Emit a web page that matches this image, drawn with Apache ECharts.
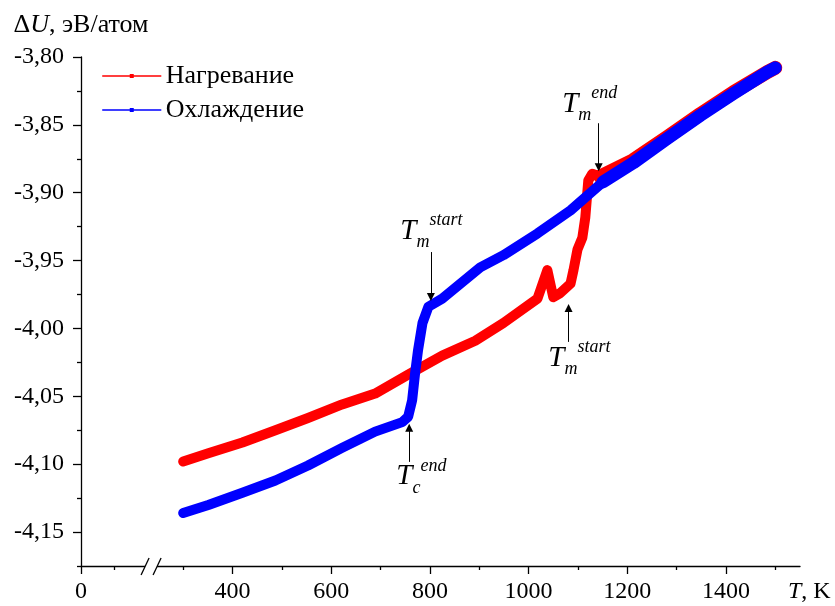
<!DOCTYPE html>
<html lang="ru">
<head>
  <meta charset="UTF-8">
  <title>ΔU(T)</title>
  <script src="https://cdn.jsdelivr.net/npm/echarts@6/dist/echarts.min.js"></script>
  <style>
    html, body { margin: 0; padding: 0; background: #fff; }
    #chart { width: 835px; height: 606px; }
  </style>
</head>
<body>
<div id="chart"></div>
<script>
  // оси
  var XMIN = 93, XMAX = 1550, YMIN = -4.175, YMAX = -3.80;
  var BREAK_T = 235;
  var xMajor = [XMIN, 400, 600, 800, 1000, 1200, 1400];
  var xMinor = [160, 300, 500, 700, 900, 1100, 1300, 1500];
  var yMajor = [-4.15, -4.10, -4.05, -4.00, -3.95, -3.90, -3.85, -3.80];
  var yMinor = [-4.175, -4.125, -4.075, -4.025, -3.975, -3.925, -3.875, -3.825];

  // нагревание
  var heatT = [300, 351, 420, 487, 553, 622, 689, 756, 825, 892, 949, 1018, 1038, 1050, 1064, 1085, 1091, 1099, 1109, 1115, 1119, 1121, 1129, 1145, 1212, 1281, 1348, 1415, 1484, 1500];
  var heatU = [-4.098, -4.092, -4.084, -4.075, -4.066, -4.056, -4.048, -4.034, -4.020, -4.009, -3.996, -3.978, -3.957, -3.977, -3.974, -3.967, -3.957, -3.942, -3.933, -3.918, -3.900, -3.891, -3.886, -3.888, -3.876, -3.859, -3.842, -3.826, -3.811, -3.808];

  // охлаждение
  var coolT = [300, 351, 420, 487, 553, 622, 689, 744, 756, 764, 770, 776, 785, 797, 825, 902, 949, 1018, 1085, 1151, 1212, 1281, 1348, 1415, 1484, 1500];
  var coolU = [-4.136, -4.130, -4.121, -4.112, -4.101, -4.088, -4.076, -4.069, -4.065, -4.053, -4.033, -4.016, -3.996, -3.984, -3.978, -3.955, -3.946, -3.930, -3.913, -3.892, -3.878, -3.860, -3.843, -3.827, -3.811, -3.808];

  // стрелки: T, хвост, острие
  var arrows = [
    [802, -3.9437, -3.9768],
    [758, -4.0983, -4.0732],
    [1142, -3.8488, -3.8812],
    [1081, -4.0099, -3.9849]
  ];
  // подписи: T, U, индекс, степень
  var notes = [
    [740, -3.9286, 'm', 'start'],
    [732, -4.1093, 'c', 'end'],
    [1068, -3.8348, 'm', 'end'],
    [1040, -4.0217, 'm', 'start']
  ];

  var FONT = 'Liberation Serif';
  var HOT_T = 1140;

  function pairs(xs, ys, from) {
    var out = [];
    for (var i = 0; i < xs.length; i++) {
      if (from === undefined || xs[i] >= from) out.push([xs[i], ys[i]]);
    }
    return out;
  }

  var chart = echarts.init(document.getElementById('chart'));

  var tickLabel = { fontFamily: FONT, fontSize: 24, color: '#000' };

  chart.setOption({
    animation: false,
    grid: { left: 81, right: 35, top: 57, bottom: 40 },
    legend: {
      data: ['Нагревание', 'Охлаждение'],
      orient: 'vertical',
      left: 97, top: 58,
      itemWidth: 58, itemHeight: 5, itemGap: 8,
      lineStyle: { width: 1.5 },
      textStyle: { fontFamily: FONT, fontSize: 26, color: '#000', lineHeight: 25 }
    },
    xAxis: [{
      type: 'value', min: XMIN, max: XMAX,
      splitLine: { show: false },
      axisLine: { onZero: false, lineStyle: { color: '#000', width: 1.3 } },
      axisTick: { customValues: xMajor, length: 8, lineStyle: { color: '#000', width: 1.3 } },
      axisLabel: Object.assign({
        customValues: xMajor, margin: 14,
        formatter: function (v) { return v === XMIN ? '0' : String(v); }
      }, tickLabel),
      name: '{i|T}, K',
      nameLocation: 'end', nameGap: -12,
      nameTextStyle: {
        fontFamily: FONT, fontSize: 24, color: '#000',
        align: 'left', verticalAlign: 'top', padding: [14, 0, 0, 0],
        rich: { i: { fontFamily: FONT, fontSize: 24, fontStyle: 'italic', color: '#000' } }
      }
    }, {
      type: 'value', min: XMIN, max: XMAX, position: 'bottom',
      splitLine: { show: false },
      axisLine: { show: false, onZero: false },
      axisLabel: { show: false },
      axisTick: { customValues: xMinor, length: 4, lineStyle: { color: '#000', width: 1.3 } }
    }],
    yAxis: [{
      type: 'value', min: YMIN, max: YMAX,
      splitLine: { show: false },
      axisLine: { show: true, onZero: false, lineStyle: { color: '#000', width: 1.3 } },
      axisTick: { show: true, customValues: yMajor, length: 8, lineStyle: { color: '#000', width: 1.3 } },
      axisLabel: Object.assign({
        customValues: yMajor, margin: 17,
        formatter: function (v) { return v.toFixed(2).replace('.', ','); }
      }, tickLabel),
      name: '{d|Δ}{i|U}{d|, эВ/атом}',
      nameLocation: 'end', nameGap: 19,
      nameTextStyle: {
        rich: {
          d: { fontFamily: FONT, fontSize: 26, color: '#000' },
          i: { fontFamily: FONT, fontSize: 26, fontStyle: 'italic', color: '#000' }
        }
      }
    }, {
      type: 'value', min: YMIN, max: YMAX, position: 'left',
      splitLine: { show: false },
      axisLine: { show: false, onZero: false },
      axisLabel: { show: false },
      axisTick: { show: true, customValues: yMinor, length: 4, lineStyle: { color: '#000', width: 1.3 } }
    }],
    series: [{
      name: 'Нагревание', type: 'line',
      data: pairs(heatT, heatU),
      symbol: 'rect', showSymbol: false,
      color: '#ff0000',
      lineStyle: { width: 10, color: '#ff0000', cap: 'round', join: 'round' },
      z: 2
    }, {
      name: 'heat-hot', type: 'line',
      data: pairs(heatT, heatU, HOT_T),
      showSymbol: false, color: '#ff0000',
      lineStyle: { width: 14, color: '#ff0000', cap: 'round', join: 'round' },
      z: 2
    }, {
      name: 'Охлаждение', type: 'line',
      data: pairs(coolT, coolU),
      symbol: 'rect', showSymbol: false,
      color: '#0000ff',
      lineStyle: { width: 10, color: '#0000ff', cap: 'round', join: 'round' },
      z: 3
    }, {
      name: 'cool-hot', type: 'line',
      data: pairs(coolT, coolU, HOT_T),
      showSymbol: false, color: '#0000ff',
      lineStyle: { width: 13, color: '#0000ff', cap: 'round', join: 'round' },
      z: 3,
      markLine: {
        silent: true,
        symbol: ['none', 'triangle'],
        symbolSize: 8,
        label: { show: false },
        lineStyle: { color: '#000', width: 1, type: 'solid' },
        emphasis: { disabled: true },
        data: arrows.map(function (a) {
          return [{ coord: [a[0], a[1]] }, { coord: [a[0], a[2]] }];
        })
      },
      markPoint: {
        silent: true,
        symbol: 'circle', symbolSize: 0,
        itemStyle: { color: 'transparent' },
        label: {
          show: true, position: 'inside', align: 'left', verticalAlign: 'middle',
          rich: {
            t: { fontFamily: FONT, fontSize: 29, fontStyle: 'italic', color: '#000', lineHeight: 40 },
            s: { fontFamily: FONT, fontSize: 18, fontStyle: 'italic', color: '#000', lineHeight: 17, verticalAlign: 'bottom' },
            p: { fontFamily: FONT, fontSize: 18, fontStyle: 'italic', color: '#000', lineHeight: 24, verticalAlign: 'top' }
          }
        },
        data: notes.map(function (n) {
          return { coord: [n[0], n[1]], label: { formatter: '{t|T}{s|' + n[2] + '}{p|' + n[3] + '}' } };
        })
      }
    }]
  });

  // разрыв оси
  var p = chart.convertToPixel({ gridIndex: 0 }, [BREAK_T, YMIN]);
  chart.setOption({
    graphic: [
      { type: 'rect', shape: { x: p[0] - 6, y: p[1] - 2, width: 12, height: 4 }, style: { fill: '#fff' }, z: 100 },
      { type: 'line', shape: { x1: p[0] - 10, y1: p[1] + 9, x2: p[0] - 2, y2: p[1] - 8 }, style: { stroke: '#000', lineWidth: 1.3 }, z: 101 },
      { type: 'line', shape: { x1: p[0] + 2, y1: p[1] + 9, x2: p[0] + 10, y2: p[1] - 8 }, style: { stroke: '#000', lineWidth: 1.3 }, z: 101 }
    ]
  });
</script>
</body>
</html>
